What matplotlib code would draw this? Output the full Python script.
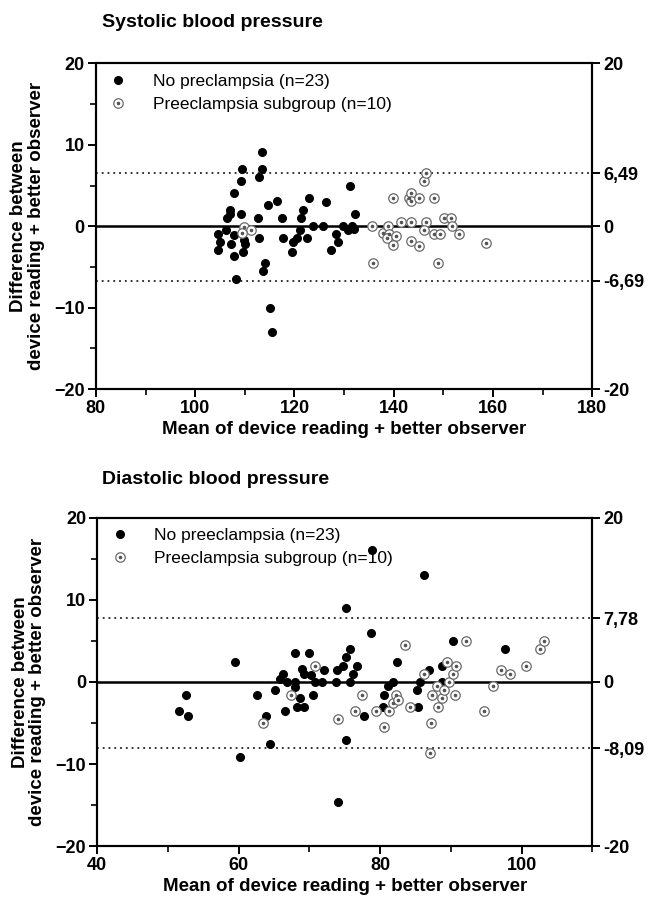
import numpy as np
import matplotlib
matplotlib.use("Agg")
import matplotlib.pyplot as plt
from matplotlib.ticker import MultipleLocator
from matplotlib.legend_handler import HandlerTuple

plt.rcParams['font.family'] = ['Liberation Sans', 'DejaVu Sans']

# systolic, no preeclampsia
sys_np_x = [104.6, 105.1, 104.6, 106.3, 106.5, 107.0, 107.0, 107.3, 107.9, 107.9, 107.9, 108.3,
            109.2, 109.4, 109.2, 109.9, 110.1, 109.7, 112.6, 112.8, 112.9, 113.4, 113.4, 113.6,
            114.1, 114.7, 115.0, 115.4, 116.5, 117.5, 117.7, 119.6, 119.8, 120.6, 121.2, 121.3,
            121.8, 122.6, 123.0, 123.7, 125.8, 126.3, 127.3, 128.3, 128.8, 129.8, 130.8, 131.2,
            131.5, 131.9, 132.2]
sys_np_y = [-0.9, -1.9, -2.9, -0.4, 1.0, 1.5, 2.0, -2.2, -1.1, 4.1, -3.7, -6.5,
            5.5, 7.0, 1.5, -1.7, -2.2, -3.2, 1.0, -1.5, 6.0, 7.0, 9.1, -5.5,
            -4.5, 2.6, -10.0, -13.0, 3.1, 1.0, -1.5, -3.2, -1.9, -1.5, -0.5, 1.0,
            2.0, -1.5, 3.5, 0.0, 0.0, 3.0, -2.9, -0.9, -1.9, 0.0, -0.4, 5.0,
            0.0, -0.3, 1.5]

# systolic, preeclampsia subgroup
sys_pe_x = [109.9, 111.2, 109.4, 135.7, 135.9, 137.9, 138.8, 139.1, 138.6, 140.5, 139.9, 139.8,
            141.5, 143.5, 143.1, 143.4, 143.5, 145.1, 143.5, 145.1, 146.6, 146.1, 146.1, 146.6,
            148.1, 148.1, 149.4, 148.9, 150.1, 151.5, 151.8, 153.1, 158.6]
sys_pe_y = [-0.1, -0.4, -0.8, 0.0, -4.5, -0.8, 0.0, -1.0, -1.4, -1.2, -2.3, 3.5,
            0.5, 0.5, 3.5, 4.1, 3.1, 3.5, -1.8, -2.4, 0.5, -0.5, 5.5, 6.5,
            3.5, -1.0, -1.0, -4.5, 1.0, 1.0, 0.0, -1.0, -2.0]

# diastolic, no preeclampsia
dia_np_x = [51.6, 52.6, 52.8, 59.5, 60.2, 62.6, 63.8, 64.5, 65.2, 65.8, 66.3, 66.6,
            66.9, 67.9, 67.9, 68.0, 68.3, 68.7, 69.0, 69.2, 69.3, 70.0, 70.3, 70.5,
            70.8, 71.8, 72.0, 73.7, 73.9, 74.0, 74.7, 75.2, 75.2, 75.2, 75.8, 75.8,
            76.2, 76.7, 77.7, 78.7, 78.8, 80.4, 80.6, 81.1, 81.8, 82.4, 85.2, 85.4,
            85.7, 86.2, 86.9, 88.7, 88.7, 90.3, 97.7]
dia_np_y = [-3.55, -1.55, -4.1, 2.4, -9.1, -1.55, -4.1, -7.55, -1.0, 0.4, 1.0, -3.6,
            0.0, 3.5, 0.0, -0.6, -3.1, -2.0, 1.6, 1.0, -3.1, 3.5, 0.9, -1.55,
            0.0, 0.0, 1.4, 0.0, 1.4, -14.6, 1.9, 3.0, 9.0, -7.1, 4.0, 0.0,
            1.0, 1.9, -4.1, 6.0, 16.1, -3.1, -1.55, -0.5, 0.0, 2.4, -1.0, -3.1,
            0.0, 13.0, 1.4, 1.9, 0.0, 5.0, 4.0]

# diastolic, preeclampsia subgroup
dia_pe_x = [63.5, 67.4, 70.8, 74.0, 76.5, 77.4, 79.4, 80.5, 81.3, 81.8, 82.2, 82.5,
            83.5, 84.2, 86.2, 87.2, 87.1, 87.4, 88.1, 88.2, 88.8, 89.1, 89.4, 89.7,
            90.3, 90.6, 90.7, 92.2, 94.7, 96.0, 97.1, 98.4, 100.7, 102.6, 103.2]
dia_pe_y = [-5.0, -1.55, 1.95, -4.5, -3.55, -1.55, -3.55, -5.5, -3.55, -2.6, -1.55, -2.2,
            4.5, -3.1, 1.0, -5.0, -8.6, -1.55, -0.45, -3.1, -2.0, -1.0, 2.45, 0.0,
            0.95, -1.55, 1.9, 5.0, -3.55, -0.55, 1.4, 0.95, 1.9, 4.0, 5.0]

sys_loa = [6.49, -6.69]
dia_loa = [7.78, -8.09]


def draw_panel(ax, np_x, np_y, pe_x, pe_y, loa, xlim, np_label):
    ax.axhline(0, color='k', lw=1.8, zorder=1)
    for v in loa:
        ax.axhline(v, color='#222222', lw=1.3, ls=(0, (1, 2.2)), zorder=1)
    h_np, = ax.plot(np_x, np_y, 'o', color='k', ms=5.5, ls='none', zorder=3)
    h_ring, = ax.plot(pe_x, pe_y, 'o', mfc='white', mec='#6a6a6a', mew=0.9, ms=6.8,
                      ls='none', zorder=3)
    h_dot, = ax.plot(pe_x, pe_y, 'o', color='#555555', ms=1.6, ls='none', zorder=4)

    ax.set_xlim(*xlim)
    ax.set_ylim(-20, 20)
    ax.xaxis.set_major_locator(MultipleLocator(20))
    ax.xaxis.set_minor_locator(MultipleLocator(10))
    ax.yaxis.set_major_locator(MultipleLocator(10))
    ax.yaxis.set_minor_locator(MultipleLocator(5))
    ax.tick_params(which='major', direction='out', length=6, width=1.4, labelsize=13, pad=2)
    ax.tick_params(which='minor', direction='out', length=4, width=1.2)
    for lab in ax.get_xticklabels() + ax.get_yticklabels():
        lab.set_fontweight('bold')
    for s in ax.spines.values():
        s.set_linewidth(1.5)

    ax.set_xlabel('Mean of device reading + better observer', fontsize=13.5, fontweight='bold', labelpad=3)
    ax.set_ylabel('Difference between\ndevice reading + better observer', fontsize=13.5,
                  fontweight='bold', linespacing=1.05)
    ax.yaxis.set_label_coords(-0.103, 0.5)

    ax.legend([h_np, (h_ring, h_dot)], [np_label, 'Preeclampsia subgroup (n=10)'],
              handler_map={tuple: HandlerTuple(ndivide=1)},
              loc='upper left', frameon=False, fontsize=12.5, labelspacing=0.45,
              handlelength=1.4, handletextpad=1.3, borderaxespad=0.2,
              bbox_to_anchor=(0.0, 1.0))

    ax2 = ax.twinx()
    ax2.set_ylim(-20, 20)
    ax2.set_yticks([-20, loa[1], 0, loa[0], 20])
    ax2.set_yticklabels(['-20', f'{loa[1]:.2f}'.replace('.', ','), '0',
                         f'{loa[0]:.2f}'.replace('.', ','), '20'],
                        fontsize=13, fontweight='bold')
    ax2.tick_params(direction='out', length=6, width=1.4, pad=2)
    for s in ax2.spines.values():
        s.set_linewidth(1.5)


fig = plt.figure(figsize=(6.48, 9.05), dpi=100)

ax_top = fig.add_axes([0.148, 0.570, 0.766, 0.360])
draw_panel(ax_top, sys_np_x, sys_np_y, sys_pe_x, sys_pe_y, sys_loa, (80, 180),
           'No preclampsia (n=23)')

ax_bot = fig.add_axes([0.150, 0.065, 0.764, 0.363])
draw_panel(ax_bot, dia_np_x, dia_np_y, dia_pe_x, dia_pe_y, dia_loa, (40, 110),
           'No preeclampsia (n=23)')

fig.text(0.157, 0.975, 'Systolic blood pressure', fontsize=14, fontweight='bold', va='center')
fig.text(0.157, 0.470, 'Diastolic blood pressure', fontsize=14, fontweight='bold', va='center')

fig.savefig('out.png', dpi=100)
